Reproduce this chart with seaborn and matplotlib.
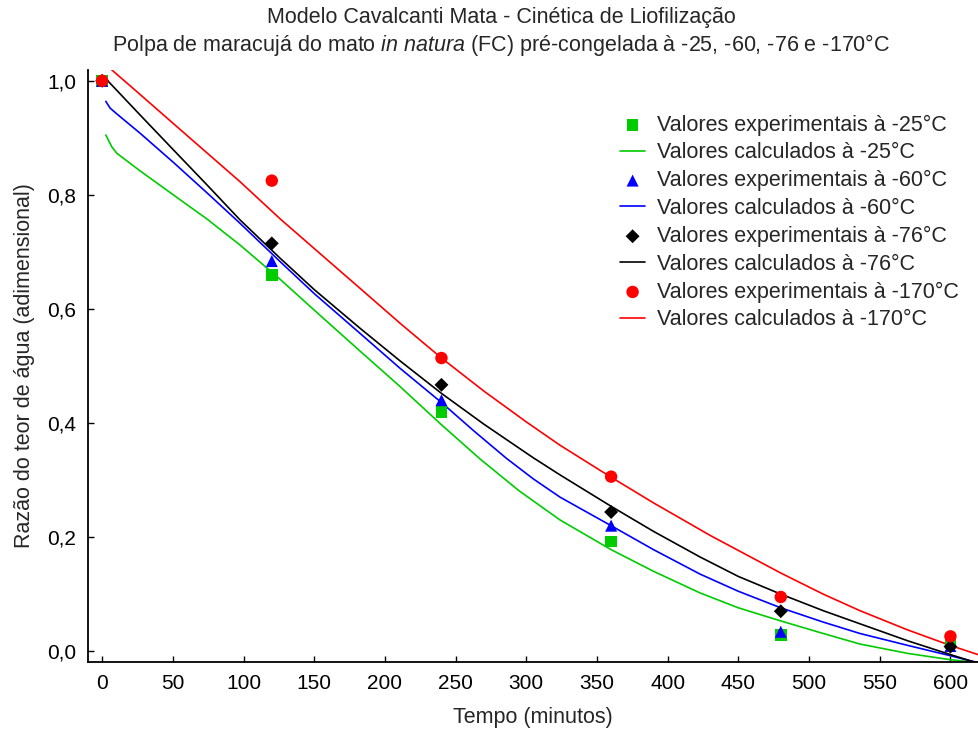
import matplotlib
matplotlib.use("Agg")
import matplotlib.pyplot as plt
import seaborn as sns
import pandas as pd
from matplotlib.ticker import FuncFormatter

# ---------------- data ----------------
t_exp = [0, 120, 240, 360, 480, 600]
exp_25 = [1.0, 0.660, 0.419, 0.192, 0.028, 0.0135]
exp_60 = [1.0, 0.684, 0.440, 0.220, 0.034, 0.009]
exp_76 = [1.0, 0.715, 0.467, 0.244, 0.070, 0.008]
exp_170 = [1.0, 0.825, 0.514, 0.306, 0.095, 0.026]

t_calc_25 = [2.6, 6.9, 10.4, 26.9, 50.4, 74, 97.6, 125.9, 150, 182.5, 210.7, 240, 267.3, 295,
             323.9, 360, 390, 423, 450, 480, 510, 536, 570, 600, 619.5]
calc_25 = [0.905, 0.884, 0.873, 0.842, 0.800, 0.758, 0.712, 0.652, 0.598, 0.526, 0.464, 0.397,
           0.337, 0.281, 0.230, 0.178, 0.140, 0.102, 0.076, 0.053, 0.031, 0.0125, -0.004, -0.015, -0.020]

t_calc_60 = [2.6, 5.7, 10.4, 26.9, 50.4, 74, 97.6, 125.9, 150, 182.5, 210.7, 240, 263, 286, 305,
             323.9, 360, 390, 423, 450, 480, 510, 536, 570, 600, 612.5, 619.5]
calc_60 = [0.964, 0.952, 0.942, 0.908, 0.857, 0.804, 0.750, 0.683, 0.627, 0.557, 0.496, 0.436,
           0.386, 0.338, 0.302, 0.270, 0.220, 0.178, 0.135, 0.105, 0.076, 0.051, 0.031, 0.010,
           -0.008, -0.016, -0.020]

t_calc_76 = [2.1, 26.9, 50.4, 74, 97.6, 125.9, 150, 182.5, 210.7, 240, 270, 305, 323.9, 360, 390,
             423, 450, 480, 510, 536, 570, 600, 609, 619.5]
calc_76 = [1.005, 0.940, 0.879, 0.818, 0.756, 0.689, 0.634, 0.566, 0.509, 0.452, 0.398, 0.339,
           0.309, 0.254, 0.210, 0.165, 0.131, 0.100, 0.071, 0.048, 0.018, -0.006, -0.013, -0.021]

t_calc_170 = [6.9, 26.9, 50.4, 74, 97.6, 125.9, 150, 182.5, 210.7, 240, 270, 300, 323.9, 360, 390,
              430, 458, 480, 510, 536, 570, 600, 619.5]
calc_170 = [1.019, 0.976, 0.925, 0.874, 0.823, 0.758, 0.706, 0.636, 0.575, 0.514, 0.456, 0.402,
            0.361, 0.305, 0.260, 0.203, 0.166, 0.137, 0.100, 0.071, 0.037, 0.010, -0.006]

labels_exp = ["Valores experimentais à -25°C", "Valores experimentais à -60°C",
              "Valores experimentais à -76°C", "Valores experimentais à -170°C"]
labels_calc = ["Valores calculados à -25°C", "Valores calculados à -60°C",
               "Valores calculados à -76°C", "Valores calculados à -170°C"]

x_ticks = list(range(0, 601, 50))
y_ticks = [0.0, 0.2, 0.4, 0.6, 0.8, 1.0]

title_1 = "Modelo Cavalcanti Mata - Cinética de Liofilização"
title_2 = r"Polpa de maracujá do mato $\mathit{in\ natura}$ (FC) pré-congelada à -25, -60, -76 e -170°C"
x_label = "Tempo (minutos)"
y_label = "Razão do teor de água (adimensional)"

# ---------------- style ----------------
sns.set_style("ticks")
plt.rcParams["font.family"] = ["Liberation Sans", "DejaVu Sans"]
plt.rcParams["mathtext.fontset"] = "custom"
plt.rcParams["mathtext.rm"] = "Liberation Sans"
plt.rcParams["mathtext.it"] = "Liberation Sans:italic"

colors = ["#00CC00", "#0000FF", "#000000", "#FF0000"]
markers = ["s", "^", "D", "o"]
msizes = [70, 75, 50, 80]

fig = plt.figure(figsize=(9.79, 7.38), dpi=100)
ax = fig.add_axes([88 / 979, 1 - 662 / 738, (978 - 88) / 979, (662 - 70) / 738])

exps = [exp_25, exp_60, exp_76, exp_170]
calcs = [(t_calc_25, calc_25), (t_calc_60, calc_60), (t_calc_76, calc_76), (t_calc_170, calc_170)]

handles = []
for i in range(4):
    dfe = pd.DataFrame({"t": t_exp, "v": exps[i]})
    n_before = len(ax.collections)
    sns.scatterplot(data=dfe, x="t", y="v", ax=ax, color=colors[i], marker=markers[i],
                    s=msizes[i], edgecolor="none", linewidth=0, zorder=4 + i, label=labels_exp[i])
    h_exp = ax.collections[n_before]
    dfc = pd.DataFrame({"t": calcs[i][0], "v": calcs[i][1]})
    n_lines = len(ax.lines)
    sns.lineplot(data=dfc, x="t", y="v", ax=ax, color=colors[i], linewidth=1.2,
                 estimator=None, sort=False, zorder=2, label=labels_calc[i])
    h_calc = ax.lines[n_lines]
    handles += [h_exp, h_calc]

ax.set_xlim(-10, 619.5)
ax.set_ylim(-0.019, 1.019)
ax.set_xticks(x_ticks)
ax.set_yticks(y_ticks)
ax.yaxis.set_major_formatter(FuncFormatter(lambda v, p: f"{v:.1f}".replace(".", ",")))
ax.tick_params(direction="in", length=4, width=1, labelsize=15, pad=8.5, colors="black")
for s in ["top", "right"]:
    ax.spines[s].set_visible(False)
for s in ["left", "bottom"]:
    ax.spines[s].set_linewidth(1.3)
    ax.spines[s].set_color("black")

ax.set_xlabel(x_label, fontsize=15.5, labelpad=10)
ax.set_ylabel(y_label, fontsize=15.5, labelpad=9)

fig.text(0.512, 1 - 17 / 738, title_1, ha="center", va="center", fontsize=15.5)
fig.text(0.512, 1 - 45 / 738, title_2, ha="center", va="center", fontsize=15.5)

labels = [h.get_label() for h in handles]
leg = ax.legend(handles, labels, loc="upper left", bbox_to_anchor=(0.598, 0.925),
                frameon=False, fontsize=15.5, handlelength=1.15, handletextpad=0.55,
                labelspacing=0.315, borderaxespad=0, borderpad=0, markerscale=1.0)

fig.savefig("out.png", dpi=100)
